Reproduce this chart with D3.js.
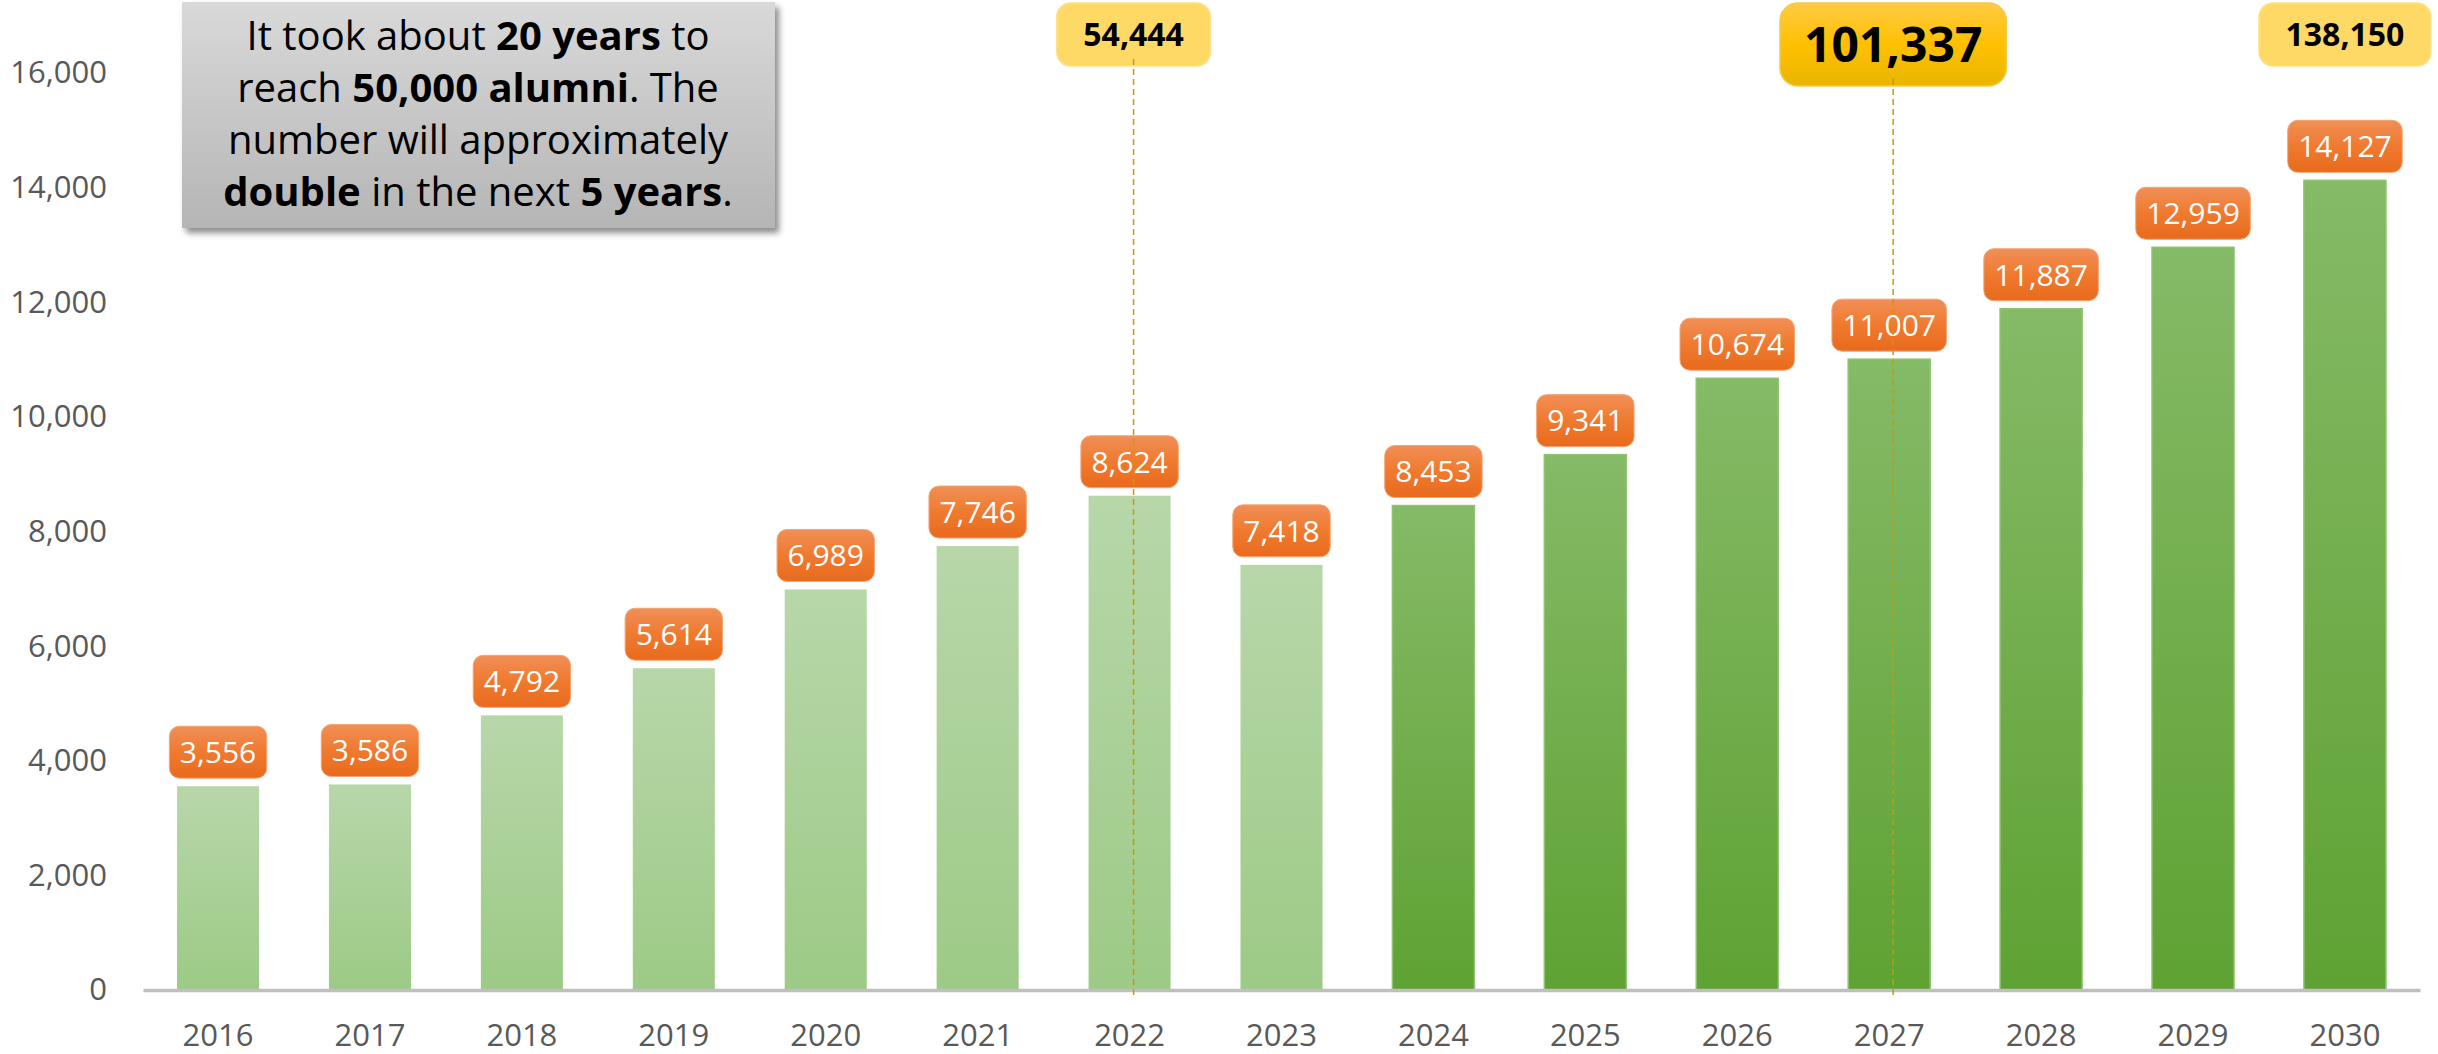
<!DOCTYPE html>
<html>
<head>
<meta charset="utf-8">
<script src="https://cdn.jsdelivr.net/npm/d3@7"></script>
<style>
  body { margin: 0; background: #fff; }
  svg { display: block; font-family: "Open Sans", sans-serif; }
</style>
</head>
<body>
<div id="chart"></div>
<script>
// Data
const years = ["2016", "2017", "2018", "2019", "2020", "2021", "2022", "2023",
               "2024", "2025", "2026", "2027", "2028", "2029", "2030"];
const alumni = [3556, 3586, 4792, 5614, 6989, 7746, 8624, 7418,
                8453, 9341, 10674, 11007, 11887, 12959, 14127];
const forecastFrom = "2024";
const yTicks = [0, 2000, 4000, 6000, 8000, 10000, 12000, 14000, 16000];

// cumulative milestones shown at the top
const milestoneYears = ["2022", "2027", "2030"];
const milestoneLabels = ["54,444", "101,337", "138,150"];
const milestoneBig = [false, true, false];
const milestoneLine = [true, true, false];

const W = 2438, H = 1054;
const fmt = d3.format(",");

const svg = d3.select("#chart").append("svg")
    .attr("width", W)
    .attr("height", H);

const defs = svg.append("defs");

function vGrad(id, stops) {
    const g = defs.append("linearGradient")
        .attr("id", id)
        .attr("x1", 0).attr("y1", 0).attr("x2", 0).attr("y2", 1);
    stops.forEach(s => g.append("stop").attr("offset", s[0]).attr("stop-color", s[1]));
}
vGrad("barLight", [[0, "#b7d7a9"], [1, "#9dca86"]]);
vGrad("barDark", [[0, "#85ba67"], [1, "#5fa233"]]);
vGrad("orange", [[0, "#f18f57"], [0.5, "#ef7a2f"], [1, "#e86a1d"]]);
vGrad("gold", [[0, "#ffcb45"], [0.5, "#ffc000"], [1, "#e9b500"]]);
vGrad("grayBox", [[0, "#d9d9d9"], [1, "#b5b5b5"]]);

const shadow = defs.append("filter").attr("id", "shadow")
    .attr("x", "-10%").attr("y", "-10%").attr("width", "130%").attr("height", "140%");
shadow.append("feDropShadow")
    .attr("dx", 4).attr("dy", 5).attr("stdDeviation", 3)
    .attr("flood-color", "#000").attr("flood-opacity", 0.45);

// Scales
const x = d3.scaleBand()
    .domain(years)
    .range([143, 2420])
    .paddingInner(0.46)
    .paddingOuter(0.224);

const y = d3.scaleLinear()
    .domain([0, 16000])
    .range([990, 73]);

// Axes
const yAxis = svg.append("g")
    .attr("transform", "translate(143,0)")
    .call(d3.axisLeft(y).tickValues(yTicks).tickSize(0).tickPadding(36).tickFormat(fmt));
yAxis.select(".domain").remove();
yAxis.selectAll("text")
    .attr("fill", "#595959")
    .style("font-size", "31px")
    .style("font-family", "Open Sans");

// Bars
const isForecast = d => years.indexOf(d) >= years.indexOf(forecastFrom);

svg.append("g").selectAll("rect")
    .data(years)
    .join("rect")
    .attr("x", d => x(d))
    .attr("y", (d, i) => y(alumni[i]))
    .attr("width", x.bandwidth())
    .attr("height", (d, i) => y(0) - y(alumni[i]))
    .attr("fill", d => isForecast(d) ? "url(#barDark)" : "url(#barLight)")
    .attr("stroke", d => isForecast(d) ? "#8fc271" : "none")
    .attr("stroke-width", 1.5);

const xAxis = svg.append("g")
    .attr("transform", `translate(0,${y(0)})`)
    .call(d3.axisBottom(x).tickSize(0).tickSizeOuter(0).tickPadding(34));
xAxis.select(".domain")
    .attr("stroke", "#bfbfbf")
    .attr("stroke-width", 3.5);
xAxis.selectAll("text")
    .attr("fill", "#595959")
    .style("font-size", "31px")
    .style("font-family", "Open Sans");

// Value labels
const labels = svg.append("g").selectAll("g")
    .data(years)
    .join("g")
    .attr("transform", (d, i) => `translate(${x(d) + x.bandwidth() / 2},${y(alumni[i]) - 8})`);

labels.each(function (d, i) {
    const g = d3.select(this);
    const rect = g.append("rect");
    const t = g.append("text")
        .attr("text-anchor", "middle")
        .attr("y", -26)
        .attr("dy", "0.36em")
        .attr("fill", "#fff")
        .style("font-size", "30px")
        .text(fmt(alumni[i]));
    const w = t.node().getComputedTextLength() + 21;
    rect.attr("x", -w / 2).attr("y", -52)
        .attr("width", w).attr("height", 52)
        .attr("rx", 10)
        .attr("fill", "url(#orange)")
        .attr("stroke", "#f4a574")
        .attr("stroke-width", 1);
});

// Milestone boxes
milestoneYears.forEach((yr, i) => {
    const cx = x(yr) + x.bandwidth() / 2 + (milestoneLine[i] ? 4 : 0);
    const big = milestoneBig[i];
    const h = big ? 83 : 63;
    const g = svg.append("g").attr("transform", `translate(${cx},3)`);
    const rect = g.append("rect");
    const t = g.append("text")
        .attr("text-anchor", "middle")
        .attr("y", h / 2)
        .attr("dy", "0.36em")
        .attr("fill", "#000")
        .style("font-weight", "bold")
        .style("font-size", big ? "48px" : "32px")
        .text(milestoneLabels[i]);
    const w = t.node().getComputedTextLength() + (big ? 48 : 53);
    rect.attr("x", -w / 2).attr("y", 0)
        .attr("width", w).attr("height", h)
        .attr("rx", big ? 18 : 14)
        .attr("fill", big ? "url(#gold)" : "#ffd966")
        .attr("stroke", big ? "#f6c94a" : "#ffe08a")
        .attr("stroke-width", 1.5);
    if (milestoneLine[i]) {
        svg.append("line")
            .attr("x1", cx).attr("x2", cx)
            .attr("y1", 3 + h - 7)
            .attr("y2", y(0) + 6)
            .attr("stroke", "#c99a06")
            .attr("stroke-width", 1.5)
            .attr("stroke-dasharray", "6,4");
    }
});

// Annotation box
const note = svg.append("g");
note.append("rect")
    .attr("x", 182).attr("y", 2)
    .attr("width", 593).attr("height", 226)
    .attr("fill", "url(#grayBox)")
    .attr("filter", "url(#shadow)");

const noteLines = [
    [["It took about ", false], ["20 years", true], [" to", false]],
    [["reach ", false], ["50,000 alumni", true], [". The", false]],
    [["number will approximately", false]],
    [["double", true], [" in the next ", false], ["5 years", true], [".", false]]
];
noteLines.forEach((parts, i) => {
    const t = note.append("text")
        .attr("x", 478)
        .attr("y", 50 + i * 52)
        .attr("text-anchor", "middle")
        .attr("fill", "#000")
        .style("font-size", "40px");
    parts.forEach(p => {
        t.append("tspan")
            .style("font-weight", p[1] ? "bold" : "normal")
            .text(p[0]);
    });
});
</script>
</body>
</html>
